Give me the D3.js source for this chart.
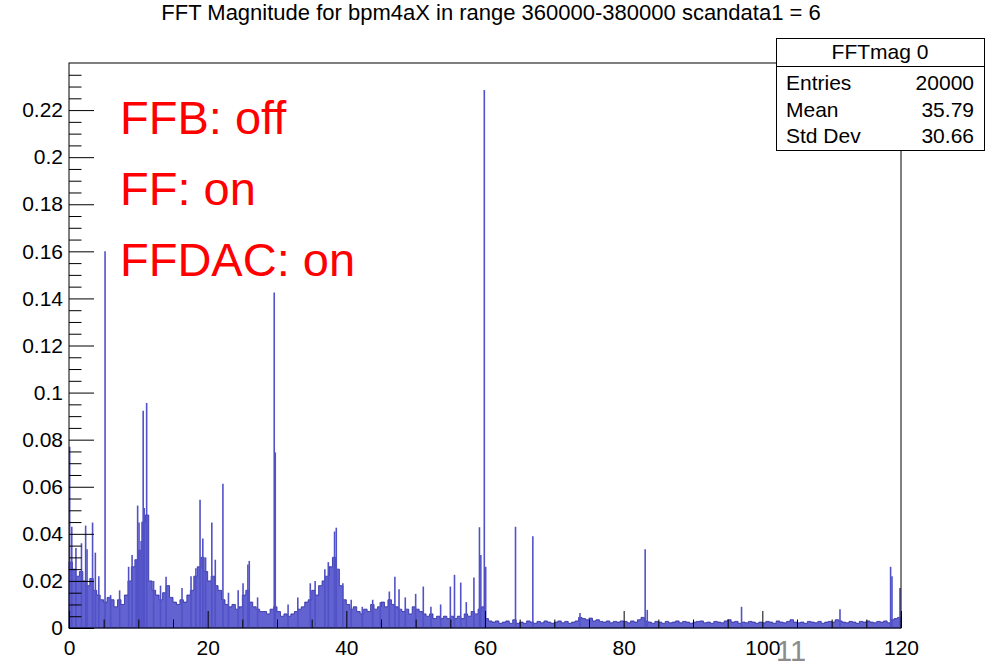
<!DOCTYPE html>
<html>
<head>
<meta charset="utf-8">
<script src="https://cdn.jsdelivr.net/npm/d3@7"></script>
<style>
  body { margin: 0; background: #fff; }
  svg { display: block; font-family: "Liberation Sans", Arial, Helvetica, sans-serif; }
</style>
</head>
<body>
<div id="chart"></div>
<script>
// FFT magnitude histogram, ROOT style

// bin width of the noise floor (in x units)
const binWidth = 0.5;

// noise floor, one value per 0.5 bin from 0 to 120
const noiseFloor = [
  0.028, 0.025, 0.022, 0.024, 0.020, 0.018, 0.021, 0.016, 0.014, 0.012,
  0.011, 0.013, 0.012, 0.009, 0.012, 0.010, 0.014, 0.020, 0.026, 0.029,
  0.033, 0.045, 0.048, 0.020, 0.016, 0.014, 0.012, 0.015, 0.018, 0.013,
  0.011, 0.010, 0.012, 0.011, 0.014, 0.016, 0.022, 0.026, 0.030, 0.024,
  0.020, 0.022, 0.018, 0.016, 0.012, 0.010, 0.009, 0.010, 0.008, 0.009,
  0.014, 0.016, 0.011, 0.009, 0.008, 0.007, 0.007, 0.006, 0.008, 0.009,
  0.007, 0.005, 0.006, 0.005, 0.006, 0.007, 0.008, 0.009, 0.011, 0.012,
  0.016, 0.014, 0.018, 0.020, 0.022, 0.026, 0.030, 0.025, 0.018, 0.012,
  0.010, 0.008, 0.009, 0.007, 0.006, 0.008, 0.007, 0.010, 0.008, 0.009,
  0.011, 0.009, 0.012, 0.010, 0.009, 0.008, 0.007, 0.008, 0.006, 0.009,
  0.008, 0.007, 0.006, 0.005, 0.006, 0.004, 0.005, 0.004, 0.005, 0.004,
  0.005, 0.004, 0.005, 0.004, 0.006, 0.005, 0.007, 0.006, 0.008, 0.009,
  0.004, 0.003, 0.0025, 0.003, 0.002, 0.0025, 0.003, 0.002, 0.0035, 0.002,
  0.0025, 0.002, 0.003, 0.0025, 0.002, 0.0028, 0.0022, 0.003, 0.0025, 0.002,
  0.0025, 0.003, 0.0022, 0.0028, 0.002, 0.0025, 0.003, 0.0045, 0.004, 0.0035,
  0.0042, 0.003, 0.0035, 0.0028, 0.0025, 0.003, 0.0022, 0.0028, 0.0025, 0.003,
  0.0028, 0.0022, 0.003, 0.0025, 0.0035, 0.0045, 0.003, 0.0025, 0.002, 0.0028,
  0.0025, 0.002, 0.0028, 0.0022, 0.0025, 0.003, 0.0022, 0.0028, 0.0025, 0.002,
  0.0025, 0.0028, 0.003, 0.0022, 0.0025, 0.002, 0.0028, 0.0025, 0.0022, 0.003,
  0.0035, 0.0025, 0.0028, 0.002, 0.0025, 0.0022, 0.0028, 0.0025, 0.002, 0.0025,
  0.0022, 0.0028, 0.0025, 0.002, 0.003, 0.0025, 0.0022, 0.0028, 0.0035, 0.0025,
  0.0022, 0.0025, 0.002, 0.0028, 0.0025, 0.0022, 0.0028, 0.002, 0.0025, 0.0028,
  0.0025, 0.0035, 0.003, 0.0025, 0.0022, 0.0028, 0.0025, 0.002, 0.0028, 0.0025,
  0.003, 0.0025, 0.0022, 0.0028, 0.0025, 0.003, 0.0022, 0.0035, 0.004, 0.0045
];

// narrow peaks: [frequency, magnitude]
const peaks = [
  [0.1, 0.077], [0.4, 0.043], [1.0, 0.034], [1.8, 0.036], [2.4, 0.0435],
  [2.6, 0.0335], [3.4, 0.0448], [3.8, 0.032], [4.3, 0.022], [5.2, 0.160],
  [6.0, 0.014], [7.3, 0.016], [8.6, 0.026], [9.1, 0.031], [9.7, 0.029],
  [9.9, 0.052], [10.1, 0.0448], [10.4, 0.037], [10.7, 0.0923], [10.85, 0.051],
  [11.2, 0.0956], [12.2, 0.020], [13.2, 0.018], [14.0, 0.0218], [16.3, 0.017],
  [17.6, 0.022], [18.3, 0.0254], [18.9, 0.0545], [19.3, 0.038], [19.7, 0.030],
  [20.6, 0.0448], [21.1, 0.029], [22.2, 0.0613], [23.0, 0.015], [24.4, 0.016],
  [25.1, 0.019], [25.8, 0.027], [26.0, 0.0285], [27.2, 0.013], [29.6, 0.1425],
  [29.75, 0.0746], [31.6, 0.010], [33.0, 0.013], [34.8, 0.019], [35.5, 0.020],
  [36.9, 0.025], [37.4, 0.028], [38.3, 0.041], [38.55, 0.0426], [39.5, 0.019],
  [40.7, 0.012], [42.3, 0.009], [43.8, 0.012], [44.9, 0.011], [46.2, 0.0155],
  [47.0, 0.0218], [47.6, 0.0165], [48.5, 0.013], [50.0, 0.0145], [51.1, 0.0176],
  [52.2, 0.009], [53.6, 0.010], [55.0, 0.0176], [55.6, 0.0226], [56.5, 0.0193],
  [57.3, 0.011], [58.4, 0.0214], [59.2, 0.0428], [59.4, 0.031], [59.9, 0.2285],
  [60.1, 0.026], [64.4, 0.043], [66.9, 0.039], [73.7, 0.0064], [83.1, 0.0335],
  [83.4, 0.0077], [97.0, 0.009], [111.2, 0.008], [118.5, 0.026], [118.7, 0.022],
  [119.85, 0.017]
];

// axis ticks
const xMajor = [0, 20, 40, 60, 80, 100, 120];
const xMinor = [5, 10, 15, 25, 30, 35, 45, 50, 55, 65, 70, 75, 85, 90, 95, 105, 110, 115];
const yMajor = [0, 0.02, 0.04, 0.06, 0.08, 0.1, 0.12, 0.14, 0.16, 0.18, 0.2, 0.22];
const yMinorStep = 0.005;

// stats box and annotations
const statsTitle = "FFTmag 0";
const statsRows = [["Entries", "20000"], ["Mean", "35.79"], ["Std Dev", "30.66"]];
const notes = ["FFB: off", "FF: on", "FFDAC: on"];
const title = "FFT Magnitude for bpm4aX in range 360000-380000 scandata1 = 6";

function draw() {
    const svgWidth = 992;
    const svgHeight = 668;
    const margin = { top: 63, right: 91, bottom: 40, left: 69 };

    const svg = d3.select("#chart")
        .append("svg")
        .attr("width", svgWidth)
        .attr("height", svgHeight);

    const x = d3.scaleLinear()
        .domain([0, 120])
        .range([margin.left, svgWidth - margin.right]);

    const y = d3.scaleLinear()
        .domain([0, 0.24])
        .range([svgHeight - margin.bottom, margin.top]);

    // title
    svg.append("text")
        .attr("x", 491)
        .attr("y", 20)
        .attr("text-anchor", "middle")
        .attr("font-size", 22)
        .text(title);

    // noise floor as a step histogram
    const bins = noiseFloor.map((v, i) => ({ f: i * binWidth, v: v }));
    bins.push({ f: noiseFloor.length * binWidth, v: noiseFloor[noiseFloor.length - 1] });

    const area = d3.area()
        .curve(d3.curveStepAfter)
        .x(d => x(d.f))
        .y0(y(0))
        .y1(d => y(d.v));

    svg.append("path")
        .datum(bins)
        .attr("d", area)
        .attr("fill", "#6262d0")
        .attr("stroke", "#2a2aa0")
        .attr("stroke-width", 0.8);

    // peaks
    svg.selectAll(".peak")
        .data(peaks)
        .enter().append("line")
        .attr("class", "peak")
        .attr("x1", d => x(d[0]))
        .attr("x2", d => x(d[0]))
        .attr("y1", y(0))
        .attr("y2", d => y(d[1]))
        .attr("stroke", "#5252c8")
        .attr("stroke-width", 1.6);

    // frame
    svg.append("rect")
        .attr("x", x(0))
        .attr("y", y(0.24))
        .attr("width", x(120) - x(0))
        .attr("height", y(0) - y(0.24))
        .attr("fill", "none")
        .attr("stroke", "#000")
        .attr("stroke-width", 1);

    // x axis
    svg.append("g")
        .attr("transform", `translate(0, ${y(0)})`)
        .call(d3.axisBottom(x).tickValues(xMajor).tickSize(-17).tickPadding(12).tickFormat(d3.format("d")));
    svg.append("g")
        .attr("transform", `translate(0, ${y(0)})`)
        .call(d3.axisBottom(x).tickValues(xMinor).tickSize(-8.5).tickFormat(""));

    // y axis
    const yMinor = d3.range(0, 0.2401, yMinorStep).filter(v => Math.abs(v / 0.02 - Math.round(v / 0.02)) > 1e-6);
    svg.append("g")
        .attr("transform", `translate(${x(0)}, 0)`)
        .call(d3.axisLeft(y).tickValues(yMajor).tickSize(-25).tickPadding(6).tickFormat(d3.format("~g")));
    svg.append("g")
        .attr("transform", `translate(${x(0)}, 0)`)
        .call(d3.axisLeft(y).tickValues(yMinor).tickSize(-12.5).tickFormat(""));

    svg.selectAll(".domain").remove();
    svg.selectAll(".tick line").attr("stroke", "#000").attr("stroke-width", 1);
    svg.selectAll(".tick text")
        .attr("font-size", 21)
        .attr("font-family", "'Liberation Sans', Arial, sans-serif")
        .attr("fill", "#000");

    // stats box
    const box = svg.append("g");
    box.append("rect")
        .attr("x", 776.5).attr("y", 38.5)
        .attr("width", 208).attr("height", 112)
        .attr("fill", "#fff").attr("stroke", "#000");
    box.append("line")
        .attr("x1", 776.5).attr("x2", 984.5)
        .attr("y1", 66.5).attr("y2", 66.5)
        .attr("stroke", "#000");
    box.append("text")
        .attr("x", 880).attr("y", 59)
        .attr("text-anchor", "middle")
        .attr("font-size", 21)
        .text(statsTitle);
    statsRows.forEach((r, i) => {
        const by = 90 + i * 26.5;
        box.append("text").attr("x", 786).attr("y", by).attr("font-size", 21).text(r[0]);
        box.append("text").attr("x", 974).attr("y", by).attr("font-size", 21)
            .attr("text-anchor", "end").text(r[1]);
    });

    // red annotations
    svg.selectAll(".note")
        .data(notes)
        .enter().append("text")
        .attr("class", "note")
        .attr("x", 120)
        .attr("y", (d, i) => 134 + i * 71)
        .attr("font-size", 47)
        .attr("fill", "#ff0000")
        .text(d => d);

    // page number
    svg.append("text")
        .attr("x", 776)
        .attr("y", 661)
        .attr("font-size", 29)
        .attr("fill", "#8c8c8c")
        .text("11");
}

draw();
</script>
</body>
</html>
